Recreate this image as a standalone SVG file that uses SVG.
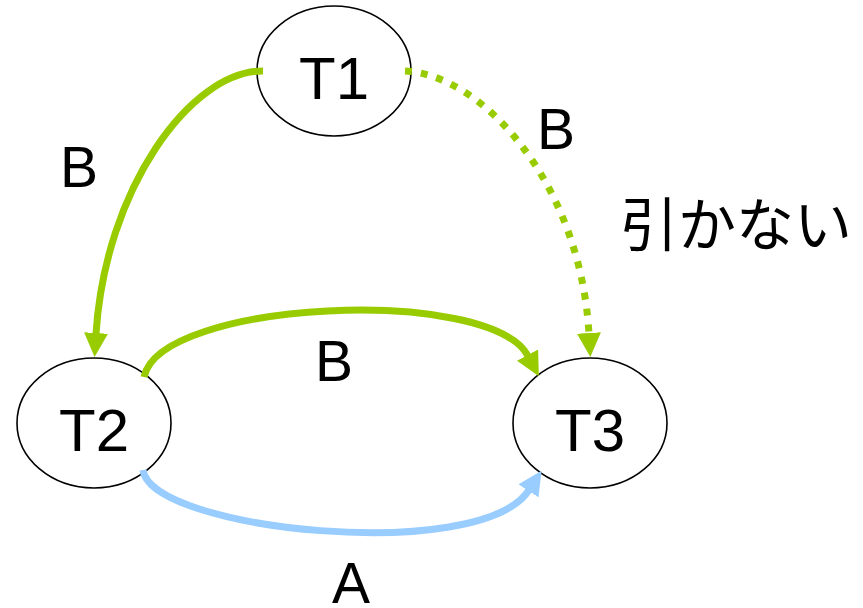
<svg xmlns="http://www.w3.org/2000/svg" width="863" height="608" viewBox="0 0 863 608">
<style>
.node ellipse{fill:#fff;stroke:#000;stroke-width:1.6}
.node text{font-family:"Liberation Sans",Arial,sans-serif;font-size:60px;fill:#000;text-anchor:middle}
.lbl{font-family:"Liberation Sans",Arial,sans-serif;font-size:57px;fill:#000;text-anchor:middle}
.jp{font-family:"Liberation Sans","Noto Sans CJK JP",sans-serif;font-size:58px;fill:#000}
.g{fill:none;stroke:#99CC00;stroke-width:7}
.b{fill:none;stroke:#99CCFF;stroke-width:7}
.dot{stroke-dasharray:7 9}
</style>
<defs>
<marker id="ag" markerUnits="userSpaceOnUse" viewBox="0 -12 24 24" markerWidth="24" markerHeight="24" refX="1" refY="0" orient="auto">
<path d="M0,-12 L24,0 L0,12 z" fill="#99CC00"/>
</marker>
<marker id="ab" markerUnits="userSpaceOnUse" viewBox="0 -12 24 24" markerWidth="24" markerHeight="24" refX="1" refY="0" orient="auto">
<path d="M0,-12 L24,0 L0,12 z" fill="#99CCFF"/>
</marker>
</defs>
<g id="T1" class="node"><ellipse cx="334" cy="71" rx="77" ry="65"/><text x="334" y="99">T1</text></g>
<g id="T2" class="node"><ellipse cx="94" cy="423" rx="77" ry="65"/><text x="94" y="451">T2</text></g>
<g id="T3" class="node"><ellipse cx="590" cy="423" rx="77" ry="65"/><text x="590" y="451">T3</text></g>
<g id="connectors">
<path class="g" d="M263,71 C190,71 105,190 96,334" marker-end="url(#ag)"/>
<path class="g dot" d="M405,71 C480,74 580,180 589,334" marker-end="url(#ag)"/>
<path class="g" d="M144,377 C160,300 490,285 528,356" marker-end="url(#ag)"/>
<path class="b" d="M143,470 C150,530 480,565 529,490" marker-end="url(#ab)"/>
</g>
<g id="labels">
<text class="lbl" x="79" y="187">B</text>
<text class="lbl" x="556" y="149">B</text>
<text class="jp" x="620" y="246">引かない</text>
<text class="lbl" x="334" y="381">B</text>
<text class="lbl" x="351" y="603">A</text>
</g>
</svg>
